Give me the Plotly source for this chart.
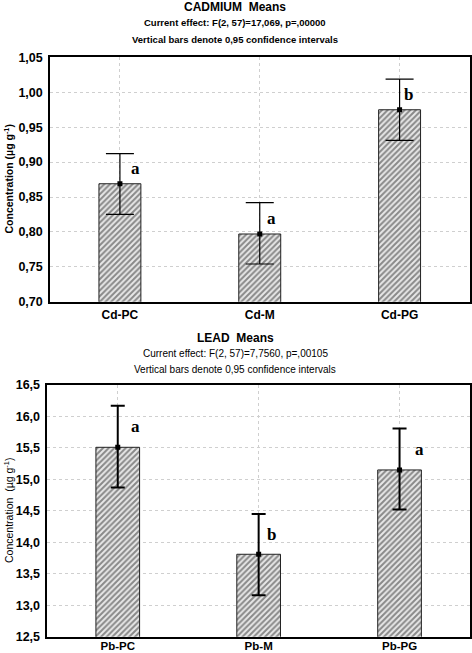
import plotly.graph_objects as go
from plotly.subplots import make_subplots

# ---- data ----
cd_categories = ["Cd-PC", "Cd-M", "Cd-PG"]
cd_means = [0.869, 0.797, 0.975]
cd_upper = [0.912, 0.842, 1.019]
cd_lower = [0.825, 0.754, 0.931]
cd_letters = ["a", "a", "b"]

pb_categories = ["Pb-PC", "Pb-M", "Pb-PG"]
pb_means = [15.51, 13.81, 15.15]
pb_upper = [16.17, 14.45, 15.81]
pb_lower = [14.87, 13.16, 14.52]
pb_letters = ["a", "b", "a"]

cd_ticks = [0.70, 0.75, 0.80, 0.85, 0.90, 0.95, 1.00, 1.05]
pb_ticks = [12.5, 13.0, 13.5, 14.0, 14.5, 15.0, 15.5, 16.0, 16.5]

W, H = 472, 653
fig = make_subplots(rows=2, cols=1)

bar_pattern = dict(shape="/", fgcolor="#2a2a2a", bgcolor="#e8e8e8", size=4, solidity=0.5)


def add_panel(row, cats, means, up, lo, width_err, lw_err, bar_w):
    fig.add_trace(go.Bar(x=cats, y=means, width=bar_w,
                         marker=dict(color="#e8e8e8", pattern=bar_pattern,
                                     line=dict(color="#222", width=1)),
                         showlegend=False, hoverinfo="skip"), row=row, col=1)
    fig.add_trace(go.Scatter(x=cats, y=means, mode="markers",
                             marker=dict(symbol="square", size=5, color="black"),
                             error_y=dict(type="data", symmetric=False,
                                          array=[u - m for u, m in zip(up, means)],
                                          arrayminus=[m - l for m, l in zip(means, lo)],
                                          color="black", thickness=lw_err, width=width_err),
                             showlegend=False, hoverinfo="skip"), row=row, col=1)


add_panel(1, cd_categories, cd_means, cd_upper, cd_lower, 14, 1.2, 0.3)
add_panel(2, pb_categories, pb_means, pb_upper, pb_lower, 7, 2, 0.31)

ann = []
# letters
for cats, means, up, letters, xs, yref, xref in [
    (cd_categories, cd_means, cd_upper, cd_letters, [16, 12, 9], "y", "x"),
    (pb_categories, pb_means, pb_upper, pb_letters, [18, 13, 20], "y2", "x2")]:
    for c, m, u, l, s in zip(cats, means, up, letters, xs):
        ann.append(dict(x=c, y=(m + u) / 2, xref=xref, yref=yref, text="<b>%s</b>" % l,
                        showarrow=False, xshift=s,
                        font=dict(family="Liberation Serif", size=17, color="black")))

def ptxt(text, ypx, size, bold=False, xpx=235, angle=0):
    return dict(x=xpx / W, y=1 - ypx / H, xref="paper", yref="paper",
                text=("<b>%s</b>" % text) if bold else text, showarrow=False,
                xanchor="center", yanchor="middle", textangle=angle,
                font=dict(family="Liberation Sans", size=size, color="black"))

ann += [
    ptxt("CADMIUM  Means", 7, 12, True),
    ptxt("Current effect: F(2, 57)=17,069, p=,00000", 23, 9.5, True),
    ptxt("Vertical bars denote 0,95 confidence intervals", 40, 9.5, True),
    ptxt("LEAD  Means", 338, 12, True),
    ptxt("Current effect: F(2, 57)=7,7560, p=,00105", 353, 10),
    ptxt("Vertical bars denote 0,95 confidence intervals", 369, 10),
    ptxt("Concentration (µg g<sup>-1</sup>)", 179.5, 10.5, True, xpx=8, angle=-90),
    ptxt("Concentration  (µg g<sup>-1</sup>)", 511, 10.5, False, xpx=8, angle=-90),
]

ax_common = dict(showline=True, mirror=True, linecolor="black", linewidth=1.5,
                 showgrid=True, gridcolor="#cfcfcf", griddash="dot", gridwidth=1,
                 zeroline=False, ticks="", color="black", automargin=False,
                 tickfont=dict(family="Liberation Sans", size=12, color="black", weight="bold"))

yfont = dict(family="Liberation Sans", size=12.5, color="black", weight="bold")

fig.update_layout(
    width=W, height=H, autosize=False,
    margin=dict(l=0, r=0, t=0, b=0),
    paper_bgcolor="white", plot_bgcolor="white",
    separators=",.",
    annotations=ann,
    xaxis=dict(ax_common, domain=[50 / W, 469.5 / W], range=[-0.5, 2.5], type="category",
               ticklabelstandoff=1),
    yaxis=dict(ax_common, domain=[1 - 301.7 / H, 1 - 57.4 / H], range=[0.70, 1.05],
               tickvals=cd_ticks, tickformat=".2f", ticklabelstandoff=3, tickfont=yfont),
    xaxis2=dict(ax_common, domain=[47.3 / W, 470 / W], range=[-0.5, 2.5], type="category",
                ticklabelstandoff=-2,
                tickfont=dict(family="Liberation Sans", size=11.5, color="black", weight="bold")),
    yaxis2=dict(ax_common, domain=[1 - 636.7 / H, 1 - 385 / H], range=[12.5, 16.5],
                tickvals=pb_ticks, tickformat=".1f", ticklabelstandoff=3, tickfont=yfont),
)

fig.write_html("out.html", config={"displayModeBar": False},
               post_script="document.body.style.margin='0';")
